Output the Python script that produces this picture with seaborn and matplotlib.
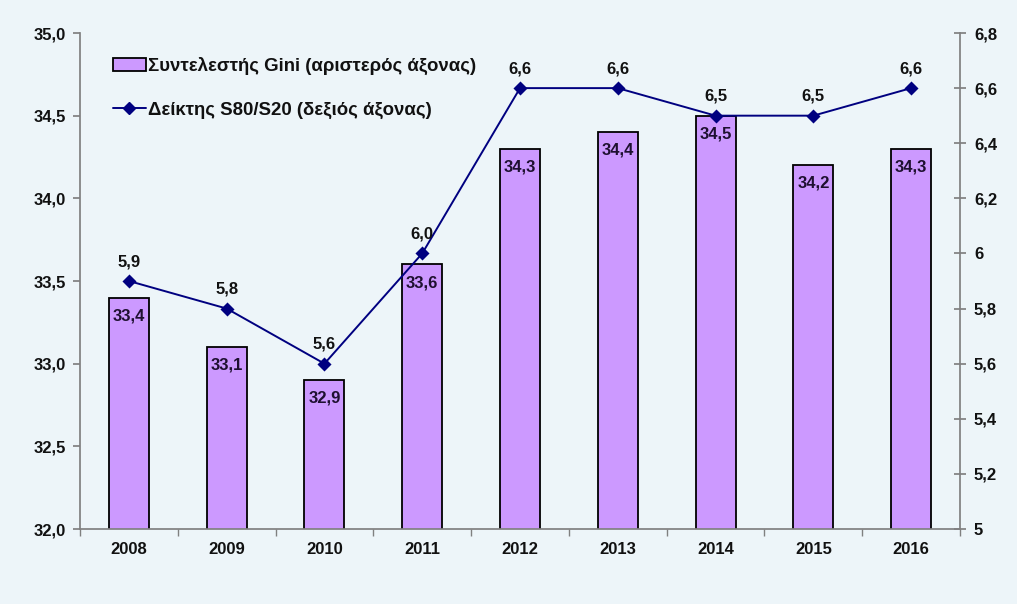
import numpy as np
import pandas as pd
import matplotlib
matplotlib.use("Agg")
import matplotlib.pyplot as plt
from matplotlib.ticker import FuncFormatter, FixedLocator, MultipleLocator
from matplotlib.patches import Patch
from matplotlib.lines import Line2D
import seaborn as sns

years = ["2008", "2009", "2010", "2011", "2012", "2013", "2014", "2015", "2016"]
gini = [33.4, 33.1, 32.9, 33.6, 34.3, 34.4, 34.5, 34.2, 34.3]
s80s20 = [5.9, 5.8, 5.6, 6.0, 6.6, 6.6, 6.5, 6.5, 6.6]
gini_label = "Συντελεστής Gini (αριστερός άξονας)"
s80_label = "Δείκτης S80/S20 (δεξιός άξονας)"

BG = "#EDF5F9"
BAR = "#CC99FF"
LINE = "#000080"
AXC = "#808080"
TXT = "#111111"

sns.set_theme(style="white")
plt.rcParams["font.family"] = ["Liberation Sans", "DejaVu Sans"]
plt.rcParams["font.weight"] = "bold"

df = pd.DataFrame({"year": years, "gini": gini, "s80": s80s20})

fig = plt.figure(figsize=(10.17, 6.04), dpi=100, facecolor=BG)
ax = fig.add_axes([80/1017, 1-529/604, 880/1017, 496/604])
ax.set_facecolor(BG)

sns.barplot(data=df, x="year", y="gini", color=BAR, edgecolor="black",
            linewidth=1.3, width=0.41, saturation=1, ax=ax)
ax.set_ylim(32.0, 35.0)
ax.set_xlim(-0.5, len(years) - 0.5)
ax.yaxis.set_major_locator(MultipleLocator(0.5))
ax.yaxis.set_major_formatter(FuncFormatter(lambda v, p: f"{v:.1f}".replace(".", ",")))
ax.set_xlabel("")
ax.set_ylabel("")

for i, v in enumerate(gini):
    ax.annotate(f"{v:.1f}".replace(".", ","), (i, v), xytext=(0, -13),
                textcoords="offset points", ha="center", va="center",
                fontsize=12, fontweight="bold", color="#1E1030")

ax2 = ax.twinx()
sns.pointplot(data=df, x="year", y="s80", color=LINE, marker="D", markersize=6,
              linewidth=1.4, ax=ax2)
ax2.set_ylim(5.0, 6.8)
ax2.set_xlim(-0.5, len(years) - 0.5)
ax2.yaxis.set_major_locator(FixedLocator(np.round(np.arange(5.0, 6.81, 0.2), 1)))
def rfmt(v, p):
    v = round(v, 1)
    if abs(v - round(v)) < 1e-9:
        return f"{int(round(v))}"
    return f"{v:.1f}".replace(".", ",")
ax2.yaxis.set_major_formatter(FuncFormatter(rfmt))
ax2.set_ylabel("")
ax2.set_xlabel("")
for i, v in enumerate(s80s20):
    ax2.annotate(f"{v:.1f}".replace(".", ","), (i, v), xytext=(0, 14),
                 textcoords="offset points", ha="center", va="center",
                 fontsize=12, fontweight="bold", color=TXT)

for a in (ax, ax2):
    for s in a.spines.values():
        s.set_visible(False)
ax.spines["left"].set_visible(True)
ax.spines["left"].set_color(AXC)
ax.spines["bottom"].set_visible(True)
ax.spines["bottom"].set_color(AXC)
ax2.spines["right"].set_visible(True)
ax2.spines["right"].set_color(AXC)

ax.tick_params(axis="y", left=True, direction="out", length=5, color=AXC,
               labelsize=12, labelcolor=TXT, pad=5)
ax.set_xticks(np.arange(len(years)))
ax.set_xticklabels(years, fontsize=12, fontweight="bold", color=TXT)
ax.set_xticks(np.arange(-0.5, len(years), 1.0), minor=True)
ax.tick_params(axis="x", which="major", bottom=True, length=0, pad=9)
ax.tick_params(axis="x", which="minor", bottom=True, direction="out", length=5, color=AXC)
ax2.tick_params(axis="y", right=True, direction="inout", length=8, color=AXC,
                labelsize=12, labelcolor=TXT, pad=6)
for t in ax.get_yticklabels() + ax2.get_yticklabels():
    t.set_fontweight("bold")

handles = [Patch(facecolor=BAR, edgecolor="black", linewidth=1.3),
           Line2D([0], [0], color=LINE, marker="D", markersize=6, linewidth=1.4)]
ax.legend(handles, [gini_label, s80_label], loc="upper left",
          bbox_to_anchor=(0.025, 0.975), frameon=False, labelcolor=TXT,
          handlelength=1.75, handleheight=0.7, handletextpad=0.12, labelspacing=1.45,
          borderaxespad=0.2, prop={"weight": "bold", "size": 13.4})

fig.savefig("out.png", dpi=100, facecolor=BG)
